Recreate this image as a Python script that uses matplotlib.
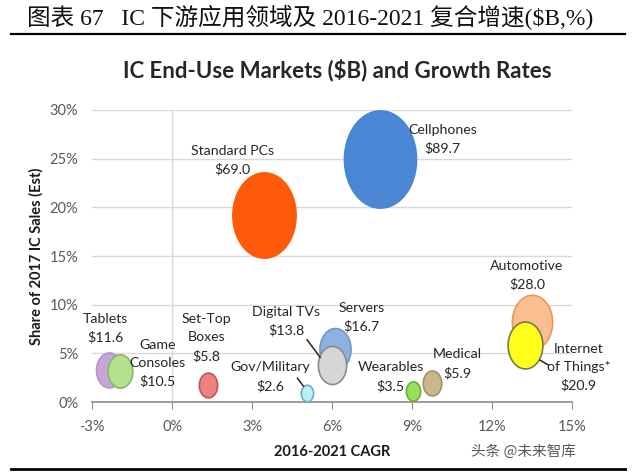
import numpy as np
import matplotlib
matplotlib.use("Agg")
import matplotlib.pyplot as plt
from matplotlib.path import Path

# bubble data: CAGR 2016-2021 (%), share of 2017 IC sales (%), market size ($B)
MARKETS = ["Cellphones", "Standard PCs", "Tablets", "Game Consoles", "Set-Top Boxes",
           "Gov/Military", "Servers", "Digital TVs", "Wearables", "Medical",
           "Automotive", "Internet of Things*"]
CAGR = [7.8, 3.45, -2.35, -1.95, 1.35, 5.05, 6.1, 6.0, 9.05, 9.75, 13.5, 13.25]
SHARE = [25.0, 19.2, 3.3, 3.2, 1.75, 0.9, 5.5, 3.8, 1.1, 2.0, 8.2, 5.9]
SIZE_B = [89.7, 69.0, 11.6, 10.5, 5.8, 2.6, 16.7, 13.8, 3.5, 5.9, 28.0, 20.9]

LABELS = ["Cellphones", "Standard PCs", "Tablets", "Game\nConsoles", "Set-Top\nBoxes",
          "Gov/Military", "Servers", "Digital TVs", "Wearables", "Medical",
          "Automotive", "Internet\nof Things*"]

X_TICKS = [-3, 0, 3, 6, 9, 12, 15]
Y_TICKS = [0, 5, 10, 15, 20, 25, 30]

FACE = ["#4A86D4", "#FF5A0A", "#C6A6D6", "#B5E08E", "#EE8080", "#B9EEF8",
        "#8EB2E0", "#D6D6D6", "#98E05A", "#C7B88E", "#FBBF8F", "#FFFF1A"]
EDGE = ["#4A86D4", "#FF5A0A", "#B496C6", "#86B865", "#B85A5A", "#6AAFC0",
        "#7098CC", "#8C8C8C", "#6CAE3A", "#9E9070", "#E8965A", "#7A7A50"]

# label anchor positions (data coords) and leader lines
LABEL_POS = [(10.15, 27.0), (2.25, 24.85), (-2.5, 7.6), (-0.55, 4.0), (1.28, 6.6),
             (3.68, 2.6), (7.1, 8.7), (4.28, 8.3), (8.2, 2.6), (10.7, 3.95),
             (13.3, 13.0), (15.25, 3.55)]
LEADERS = [((5.06, 6.4), (5.55, 4.6)), ((4.7, 2.45), (4.92, 1.65)), ((13.8, 4.3), (14.12, 3.8))]

t = np.linspace(0, 2 * np.pi, 80)
ellipse = Path(np.column_stack([np.cos(t), 1.35 * np.sin(t)]), closed=True)

fig = plt.figure(figsize=(6.4, 4.72), dpi=100)
fig.patch.set_facecolor("white")

fig.text(0.042, 0.963, "图表 67   IC 下游应用领域及 2016-2021 复合增速($B,%)",
         family=["Liberation Serif", "Noto Sans CJK SC"], fontweight="normal",
         fontsize=17, color="#111111", va="center", ha="left")
fig.add_artist(plt.Line2D([0.017, 0.977], [0.929, 0.929], color="black", lw=1.6))
fig.add_artist(plt.Line2D([0.017, 0.977], [0.006, 0.006], color="black", lw=2.0))

fig.text(0.527, 0.852, "IC End-Use Markets ($B) and Growth Rates", family="Lato",
         fontweight="bold", fontsize=16, color="#262626", ha="center", va="center")

ax = fig.add_axes([0.144, 0.148, 0.75, 0.619])
ax.set_xlim(-3, 15)
ax.set_ylim(0, 30)
for s in ["top", "right", "left"]:
    ax.spines[s].set_visible(False)
ax.spines["bottom"].set_color("#8C8C8C")
ax.spines["bottom"].set_linewidth(1.2)
for yv in Y_TICKS[1:]:
    ax.axhline(yv, color="#D9D9D9", lw=1.0, zorder=0)
ax.axvline(0, color="#D9D9D9", lw=1.0, zorder=0)

ax.set_xticks(X_TICKS)
ax.set_xticklabels([f"{v}%" for v in X_TICKS])
ax.set_yticks(Y_TICKS)
ax.set_yticklabels([f"{v}%" for v in Y_TICKS])
ax.tick_params(axis="x", direction="out", length=5, color="#8C8C8C", pad=8,
               labelsize=10.5, labelcolor="#595959")
ax.tick_params(axis="y", length=0, pad=10, labelsize=10.5, labelcolor="#595959")
for lab in ax.get_xticklabels() + ax.get_yticklabels():
    lab.set_family("Lato")

ax.set_xlabel("2016-2021 CAGR", family="Lato", fontweight="bold", fontsize=10.5,
              color="#1a1a1a", labelpad=8)
ax.set_ylabel("Share of 2017 IC Sales (Est)", family="Lato", fontweight="bold",
              fontsize=10.5, color="#1a1a1a", labelpad=4)

scale = 4900 / max(SIZE_B)
for i in range(len(MARKETS)):
    ax.scatter(CAGR[i], SHARE[i], s=SIZE_B[i] * scale, marker=ellipse,
               facecolor=FACE[i], edgecolor=EDGE[i], linewidth=1.2,
               zorder=3 + i, clip_on=False)
    ax.text(LABEL_POS[i][0], LABEL_POS[i][1], f"{LABELS[i]}\n${SIZE_B[i]:.1f}",
            family="Lato", fontsize=10.2, color="#262626", ha="center",
            va="center", linespacing=1.6, zorder=20, clip_on=False)

for (x0, y0), (x1, y1) in LEADERS:
    ax.plot([x0, x1], [y0, y1], color="#262626", lw=1.1, zorder=20, clip_on=False)

fig.text(0.818, 0.043, "头条 @未来智库", family=["Noto Sans CJK SC"], fontsize=10.5,
         color="#595959", ha="center", va="center")

fig.savefig("out.png", dpi=100)
